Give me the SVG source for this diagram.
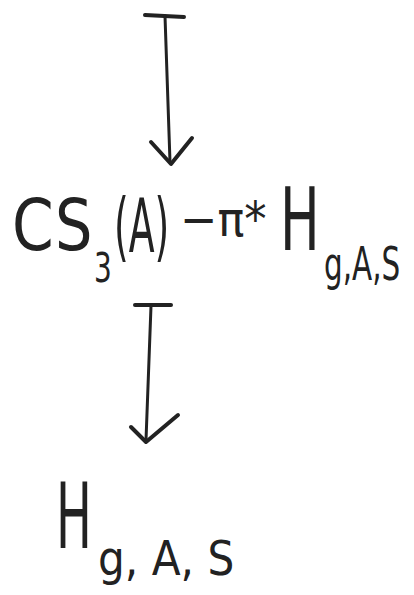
<svg xmlns="http://www.w3.org/2000/svg" width="414" height="595" viewBox="0 0 414 595">
<defs>
<style>
.ink{fill:none;stroke:#222;stroke-width:4;stroke-linecap:round;stroke-linejoin:round}
.t{fill:#222;font-family:"DejaVu Sans","Liberation Sans",sans-serif}
</style>
</defs>
<rect width="414" height="595" fill="#fff"/>
<g id="connectors">
<g id="arrow1">
<path class="ink" d="M145 15 L184 17"/>
<path class="ink" d="M165 16 L170 162" style="stroke-width:3"/>
<path class="ink" d="M151 142 L171 164 L192 138"/>
</g>
<g id="arrow2">
<path class="ink" d="M135 305 L171 305"/>
<path class="ink" d="M151 306 L146 440" style="stroke-width:3"/>
<path class="ink" d="M131 427 L146 442 L178 415"/>
</g>
</g>
<g id="node-top">
<text class="t" font-size="72" transform="translate(12 250) scale(0.83 1)">C</text>
<text class="t" font-size="72" transform="translate(55 250) scale(0.82 1)">S</text>
<text class="t" font-size="40" transform="translate(94 282) scale(0.7 1)">3</text>
<text class="t" font-size="74" transform="translate(114 252) scale(0.51 1)">(A)</text>
<text class="t" font-size="48" transform="translate(180 236) scale(0.93 1)">−π*</text>
<text class="t" font-size="88" transform="translate(280 250) scale(0.6 1)">H</text>
<text class="t" font-size="46" transform="translate(324 280) scale(0.64 1)">g,A,S</text>
</g>
<g id="node-bottom">
<text class="t" font-size="90" transform="translate(56 548) scale(0.53 1)">H</text>
<text class="t" font-size="48" transform="translate(98 575) scale(0.88 1)">g, A, S</text>
</g>
</svg>
